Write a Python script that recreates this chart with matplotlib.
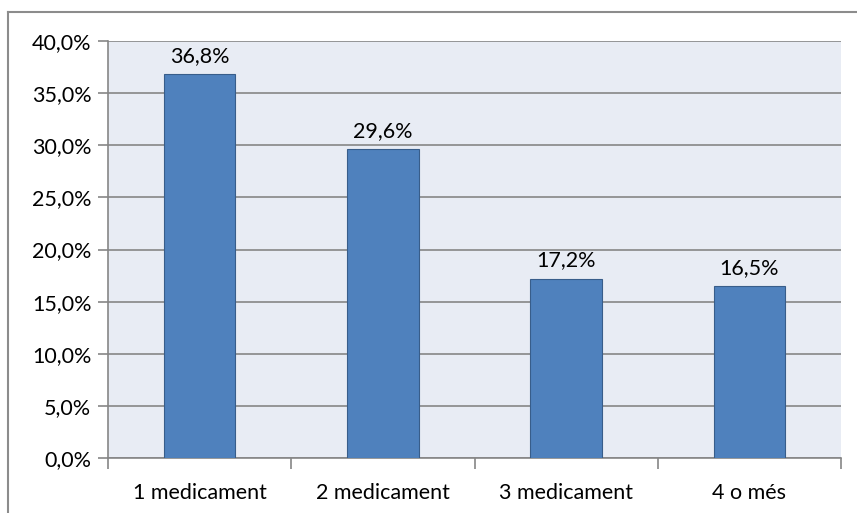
import matplotlib
matplotlib.use("Agg")
import matplotlib.pyplot as plt
from matplotlib.lines import Line2D

categories = ["1 medicament", "2 medicament", "3 medicament", "4 o més"]
values = [36.8, 29.6, 17.2, 16.5]
yticks = [0, 5, 10, 15, 20, 25, 30, 35, 40]

plt.rcParams["font.family"] = ["Lato", "DejaVu Sans"]
FS = 15.5

W, H = 857, 513
fig = plt.figure(figsize=(W / 100, H / 100), dpi=100)
fig.patch.set_facecolor("white")

# outer frame (top and left edges)
fig.add_artist(Line2D([8 / W, 8 / W], [0, 1 - 12 / H], color="#8c8c8c", lw=1.5, transform=fig.transFigure))
fig.add_artist(Line2D([8 / W, 1], [1 - 12 / H, 1 - 12 / H], color="#8c8c8c", lw=1.5, transform=fig.transFigure))

left, right, top, bottom = 108, 841, 41, 458
ax = fig.add_axes([left / W, 1 - bottom / H, (right - left) / W, (bottom - top) / H])
ax.set_facecolor("#e8ecf4")

x = list(range(len(categories)))
ax.set_axisbelow(True)
ax.yaxis.grid(True, color="#868686", lw=1.2)
bars = ax.bar(x, values, width=0.39, color="#4f81bd", edgecolor="#385d8a", lw=0.8, zorder=3)

for xi, v in zip(x, values):
    ax.text(xi, v + 0.8, f"{v:.1f}%".replace(".", ","), ha="center", va="bottom",
            fontsize=FS, color="black")

ax.set_xlim(-0.5, len(categories) - 0.5)
ax.set_ylim(0, 40)
ax.set_yticks(yticks)
ax.set_yticklabels([f"{t:.1f}%".replace(".", ",") for t in yticks], fontsize=FS)
ax.set_xticks(x)
ax.set_xticklabels(categories, fontsize=FS)
ax.tick_params(axis="x", length=0, pad=18)
ax.tick_params(axis="y", length=7, width=1.2, color="#868686", pad=5)

# category boundary ticks on the x axis
ax.set_xticks([i - 0.5 for i in range(len(categories) + 1)], minor=True)
ax.tick_params(axis="x", which="minor", length=8, width=1.2, color="#868686")

for s in ["top", "right"]:
    ax.spines[s].set_visible(False)
ax.spines["left"].set_color("#868686")
ax.spines["bottom"].set_color("#868686")
ax.spines["left"].set_linewidth(1.2)
ax.spines["bottom"].set_linewidth(1.2)

fig.savefig("out.png", dpi=100)
